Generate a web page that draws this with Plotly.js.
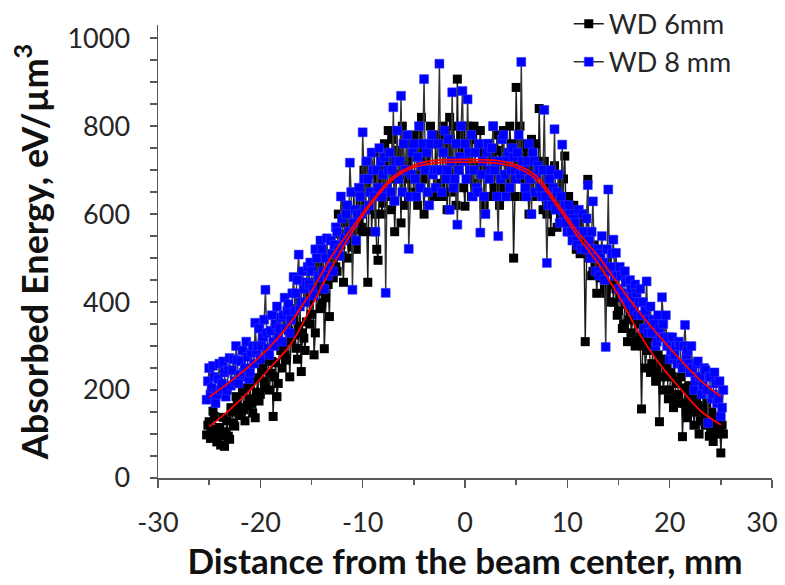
<!DOCTYPE html>
<html>
<head>
<meta charset="utf-8">
<script src="https://cdn.plot.ly/plotly-3.0.1.min.js"></script>
<style>html,body{margin:0;padding:0;background:#fff;}#chart{width:785px;height:585px;}</style>
</head>
<body>
<div id="chart"></div>
<script>
// Sample positions (mm from beam centre)
const xPos = [-25.25,-25.125,
-25,-24.875,-24.75,-24.625,-24.5,-24.375,-24.25,-24.125,
-24,-23.875,-23.75,-23.625,-23.5,-23.375,-23.25,-23.125,
-23,-22.875,-22.75,-22.625,-22.5,-22.375,-22.25,-22.125,
-22,-21.875,-21.75,-21.625,-21.5,-21.375,-21.25,-21.125,
-21,-20.875,-20.75,-20.625,-20.5,-20.375,-20.25,-20.125,
-20,-19.875,-19.75,-19.625,-19.5,-19.375,-19.25,-19.125,
-19,-18.875,-18.75,-18.625,-18.5,-18.375,-18.25,-18.125,
-18,-17.875,-17.75,-17.625,-17.5,-17.375,-17.25,-17.125,
-17,-16.875,-16.75,-16.625,-16.5,-16.375,-16.25,-16.125,
-16,-15.875,-15.75,-15.625,-15.5,-15.375,-15.25,-15.125,
-15,-14.875,-14.75,-14.625,-14.5,-14.375,-14.25,-14.125,
-14,-13.875,-13.75,-13.625,-13.5,-13.375,-13.25,-13.125,
-13,-12.875,-12.75,-12.625,-12.5,-12.375,-12.25,-12.125,
-12,-11.875,-11.75,-11.625,-11.5,-11.375,-11.25,-11.125,
-11,-10.875,-10.75,-10.625,-10.5,-10.375,-10.25,-10.125,
-10,-9.875,-9.75,-9.625,-9.5,-9.375,-9.25,-9.125,
-9,-8.875,-8.75,-8.625,-8.5,-8.375,-8.25,-8.125,
-8,-7.875,-7.75,-7.625,-7.5,-7.375,-7.25,-7.125,
-7,-6.875,-6.75,-6.625,-6.5,-6.375,-6.25,-6.125,
-6,-5.875,-5.75,-5.625,-5.5,-5.375,-5.25,-5.125,
-5,-4.875,-4.75,-4.625,-4.5,-4.375,-4.25,-4.125,
-4,-3.875,-3.75,-3.625,-3.5,-3.375,-3.25,-3.125,
-3,-2.875,-2.75,-2.625,-2.5,-2.375,-2.25,-2.125,
-2,-1.875,-1.75,-1.625,-1.5,-1.375,-1.25,-1.125,
-1,-0.875,-0.75,-0.625,-0.5,-0.375,-0.25,-0.125,
0,0.125,0.25,0.375,0.5,0.625,0.75,0.875,
1,1.125,1.25,1.375,1.5,1.625,1.75,1.875,
2,2.125,2.25,2.375,2.5,2.625,2.75,2.875,
3,3.125,3.25,3.375,3.5,3.625,3.75,3.875,
4,4.125,4.25,4.375,4.5,4.625,4.75,4.875,
5,5.125,5.25,5.375,5.5,5.625,5.75,5.875,
6,6.125,6.25,6.375,6.5,6.625,6.75,6.875,
7,7.125,7.25,7.375,7.5,7.625,7.75,7.875,
8,8.125,8.25,8.375,8.5,8.625,8.75,8.875,
9,9.125,9.25,9.375,9.5,9.625,9.75,9.875,
10,10.125,10.25,10.375,10.5,10.625,10.75,10.875,
11,11.125,11.25,11.375,11.5,11.625,11.75,11.875,
12,12.125,12.25,12.375,12.5,12.625,12.75,12.875,
13,13.125,13.25,13.375,13.5,13.625,13.75,13.875,
14,14.125,14.25,14.375,14.5,14.625,14.75,14.875,
15,15.125,15.25,15.375,15.5,15.625,15.75,15.875,
16,16.125,16.25,16.375,16.5,16.625,16.75,16.875,
17,17.125,17.25,17.375,17.5,17.625,17.75,17.875,
18,18.125,18.25,18.375,18.5,18.625,18.75,18.875,
19,19.125,19.25,19.375,19.5,19.625,19.75,19.875,
20,20.125,20.25,20.375,20.5,20.625,20.75,20.875,
21,21.125,21.25,21.375,21.5,21.625,21.75,21.875,
22,22.125,22.25,22.375,22.5,22.625,22.75,22.875,
23,23.125,23.25,23.375,23.5,23.625,23.75,23.875,
24,24.125,24.25,24.375,24.5,24.625,24.75,24.875,
25,25.125,25.25];

// WD 6mm absorbed energy (eV/um^3)
const wd6 = [98,120,128,90,104,152,140,110,82,100,115,75,96,138,72,105,130,95,88,160,
150,125,118,185,175,160,142,230,196,155,130,205,165,180,210,170,148,225,137,195,
228,175,190,245,255,220,205,290,272,200,238,265,140,230,262,185,215,310,290,250,
300,280,268,350,335,230,312,385,360,325,295,270,345,400,242,330,318,290,355,420,
400,350,372,445,280,330,425,480,440,385,398,520,294,410,460,440,367,500,488,455,
520,480,470,600,555,530,505,445,580,620,540,500,610,560,525,650,565,520,600,590,
620,570,560,700,660,610,445,650,690,560,640,740,600,520,495,680,700,600,625,760,
660,720,790,640,610,770,720,560,680,730,745,690,580,800,700,620,760,710,640,680,
730,690,650,760,780,620,690,740,820,680,600,720,740,650,700,800,760,700,640,770,
700,760,780,670,640,800,750,700,610,740,820,650,690,800,760,620,907,700,720,780,
740,660,618,760,800,720,680,640,770,800,710,670,650,740,790,700,730,620,690,750,
760,700,640,730,800,660,700,780,745,620,660,740,790,690,720,650,680,800,760,700,
500,640,888,720,700,800,760,680,640,750,730,660,600,700,770,640,690,760,720,650,
840,700,650,610,720,660,600,700,680,560,640,690,710,620,570,650,660,590,620,680,
732,600,580,640,620,560,540,620,600,520,560,580,510,600,590,540,310,560,679,500,
520,460,470,530,490,420,500,470,455,520,480,430,420,490,470,400,440,470,400,450,
430,370,380,420,410,340,350,400,395,310,360,380,330,360,380,300,310,370,350,320,
157,300,320,250,290,340,310,240,260,290,300,220,240,280,128,260,270,200,230,270,
250,180,200,240,230,160,180,220,215,190,170,230,94,170,205,150,137,210,190,160,
180,120,150,175,165,100,130,160,155,140,120,170,145,95,110,150,83,115,135,100,
115,140,57,120,100];

// WD 8 mm absorbed energy (eV/um^3)
const wd8 = [178,220,250,190,205,255,230,170,190,225,260,200,215,265,240,185,200,245,273,210,
245,270,220,300,268,215,235,265,290,240,250,310,275,225,240,285,300,260,353,290,
300,340,270,300,320,360,428,330,295,280,335,370,310,300,350,390,325,340,365,310,
370,410,340,380,395,330,360,420,457,380,420,450,508,390,400,470,430,400,445,480,
440,490,470,430,415,520,500,460,455,540,520,470,430,500,545,460,480,540,510,470,
530,570,560,520,505,640,590,540,545,600,620,560,717,650,428,580,610,540,600,660,
640,600,786,680,610,720,680,620,650,740,700,640,560,700,660,750,720,640,690,730,
421,660,700,740,650,700,843,630,720,790,680,720,869,650,760,700,700,780,521,640,
690,740,760,680,640,730,800,660,710,760,907,700,740,650,620,760,780,690,700,660,
700,760,942,700,650,740,790,680,700,770,610,720,877,660,680,760,576,700,730,800,
880,720,760,680,861,740,700,780,640,700,740,660,650,760,558,690,720,640,600,740,
760,680,700,750,800,700,720,640,550,720,680,770,780,690,640,730,740,660,700,750,
730,700,680,740,780,690,946,720,700,660,640,720,760,680,600,740,720,650,690,710,
700,660,640,700,837,640,489,620,680,700,620,660,793,610,650,690,580,640,758,600,
620,580,560,620,600,560,540,590,580,540,530,610,560,520,600,560,520,590,666,540,
500,560,629,520,470,500,520,460,510,550,490,450,298,520,656,470,480,510,542,460,
512,460,430,480,460,420,410,470,445,400,395,450,430,410,380,440,420,370,400,430,
370,400,340,380,447,330,360,390,330,360,350,300,310,370,340,320,411,350,320,370,
300,320,270,290,320,270,280,300,260,310,300,260,250,300,348,280,290,260,240,300,
250,200,220,260,265,230,230,190,210,250,245,200,125,230,230,180,190,240,215,170,
180,220,140,160,200];

// Fitted curves
const fitX = [-25,-23,-21,-19,-17,-15,-13,-11,-9,-7,-5,-3,-1,1,3,5,7,9,11,13,15,17,19,21,23,25];
const fit6 = [117,155,200,252,305,390,480,560,628,680,706,716,718,718,716,706,678,618,550,488,415,330,260,204,153,121];
const fit8 = [184,218,256,300,355,425,505,570,633,685,711,722,724,724,722,712,686,625,560,505,440,378,322,270,222,185];

const seriesNames = ['WD 6mm', 'WD 8 mm'];
const xTickVals = [-30,-20,-10,0,10,20,30];
const xTickText = ['-30','-20','-10','0','10','20','30\u2003'];
const yTickVals = [0,50,100,150,200,250,300,350,400,450,500,550,600,650,700,750,800,850,900,950,1000];
const yTickText = ['0','','','','200','','','','400','','','','600','','','','800','','','','1000'];

const axisCol = '#595959';
const traces = [
  {x: xPos, y: wd6, name: seriesNames[0], type: 'scatter', mode: 'lines+markers',
   line: {color: '#1a1a1a', width: 1.4},
   marker: {symbol: 'square', size: 9, color: '#000000'}},
  {x: xPos, y: wd8, name: seriesNames[1], type: 'scatter', mode: 'lines+markers',
   line: {color: '#333333', width: 1.4},
   marker: {symbol: 'square', size: 9, color: '#0000ff', line: {color: '#3a3aff', width: 0.5}}},
  {x: fitX, y: fit6, type: 'scatter', mode: 'lines', showlegend: false, hoverinfo: 'skip',
   line: {color: '#ff0000', width: 1.8, shape: 'spline'}},
  {x: fitX, y: fit8, type: 'scatter', mode: 'lines', showlegend: false, hoverinfo: 'skip',
   line: {color: '#ff0000', width: 1.8, shape: 'spline'}}
];

const layout = {
  width: 785, height: 585,
  margin: {l: 158, r: 13, t: 25, b: 107, autoexpand: false},
  paper_bgcolor: '#ffffff', plot_bgcolor: '#ffffff',
  font: {family: 'Lato, "Open Sans", sans-serif', color: '#262626'},
  showlegend: true,
  legend: {x: 0.669, xanchor: 'left', y: 1.056, yanchor: 'top', bgcolor: 'rgba(0,0,0,0)',
           font: {size: 27, color: '#262626'}, itemwidth: 30, tracegroupgap: 0},
  xaxis: {
    range: [-30, 30], tickmode: 'array', tickvals: xTickVals, ticktext: xTickText,
    ticks: 'outside', ticklen: 8, tickwidth: 1.5, ticklabeloverflow: 'allow',
    tickcolor: axisCol, showline: true, linecolor: axisCol, linewidth: 1.5,
    showgrid: false, zeroline: false, tickfont: {size: 27, color: '#262626'},
    ticklabelstandoff: 12,
    minor: {tickvals: [-25,-15,-5,5,15,25], ticks: 'outside', ticklen: 5, tickwidth: 1.5, tickcolor: axisCol, showgrid: false},
    title: {text: '<b>Distance from the beam center, mm</b>', font: {size: 35, color: '#111'}, standoff: 12}
  },
  yaxis: {
    range: [0, 1030], tickmode: 'array', tickvals: yTickVals, ticktext: yTickText,
    ticks: 'outside', ticklen: 7, tickwidth: 1.5, tickcolor: axisCol,
    showline: true, linecolor: axisCol, linewidth: 1.5, showgrid: false, zeroline: false,
    tickfont: {size: 27, color: '#262626'}, ticklabelstandoff: 14,
    title: {text: '<b>Absorbed Energy, eV/µm<sup>3</sup></b>', font: {size: 36, color: '#111'}, standoff: 8}
  }
};

Plotly.newPlot('chart', traces, layout, {staticPlot: true, displayModeBar: false});
</script>
</body>
</html>
